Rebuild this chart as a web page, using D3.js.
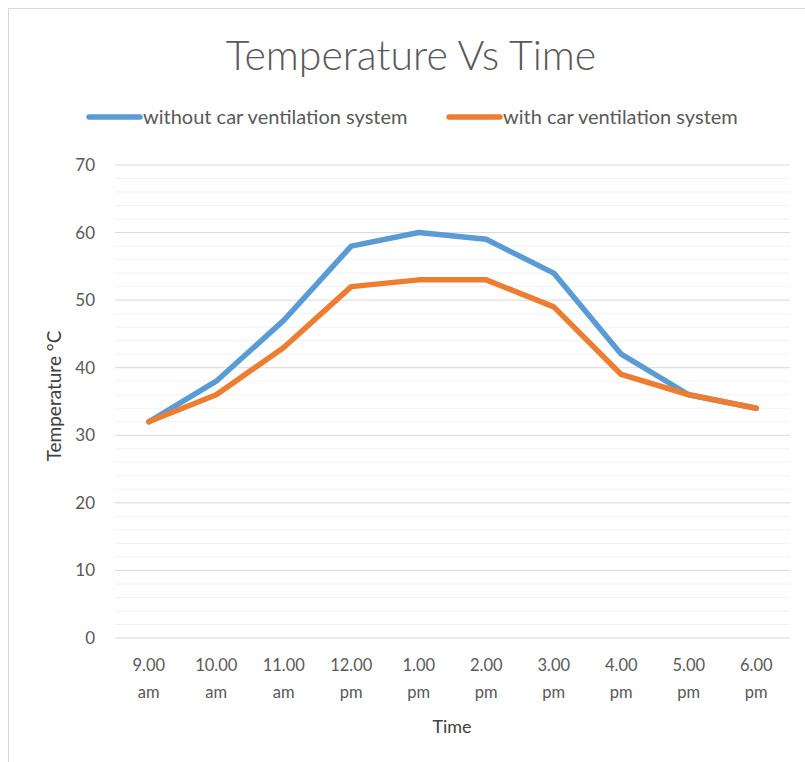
<!DOCTYPE html>
<html><head><meta charset="utf-8">
<script src="https://cdn.jsdelivr.net/npm/d3@7"></script>
<style>body{margin:0;background:#fff;}svg{display:block;}text{font-family:Lato,"Open Sans",sans-serif;}</style>
</head><body><svg id="c" width="805" height="762"></svg>
<script>
const categories = ["9.00 am","10.00 am","11.00 am","12.00 pm","1.00 pm","2.00 pm","3.00 pm","4.00 pm","5.00 pm","6.00 pm"];
const withoutVent = [32,38,47,58,60,59,54,42,36,34];
const withVent = [32,36,43,52,53,53,49,39,36,34];
const seriesNames = ["without car ventilation system","with car ventilation system"];
const yTicks = [0,10,20,30,40,50,60,70];

(function(){
const svg = d3.select("#c");
const colors = ["#5B9BD5","#ED7D31"];
const grey = "#595959";

svg.append("rect").attr("x",8.5).attr("y",8.5).attr("width",805).attr("height",760)
  .attr("fill","#fff").attr("stroke","#d9d9d9");

const pL = 115, pR = 790, pT = 165, pB = 638;
const x = d3.scaleBand().domain(categories).range([pL,pR]);
const y = d3.scaleLinear().domain([0,70]).range([pB,pT]);

const g = svg.append("g");
g.selectAll(".minor").data(d3.range(0,71,2).filter(v=>v%10!==0)).join("line")
  .attr("x1",pL).attr("x2",pR).attr("y1",d=>y(d)).attr("y2",d=>y(d))
  .attr("stroke","#f2f2f2").attr("stroke-width",1);
g.selectAll(".major").data(yTicks).join("line")
  .attr("x1",pL).attr("x2",pR).attr("y1",d=>y(d)).attr("y2",d=>y(d))
  .attr("stroke","#d9d9d9").attr("stroke-width",1);

const yAxis = d3.axisLeft(y).tickValues(yTicks).tickSize(0).tickPadding(20);
svg.append("g").attr("transform",`translate(${pL},0)`).call(yAxis)
  .call(a=>a.select(".domain").remove())
  .call(a=>a.selectAll("text").attr("fill",grey).attr("font-size",17).style("font-family","Lato,'Open Sans',sans-serif"));

const xg = svg.append("g");
categories.forEach(c=>{
  const parts = c.split(" ");
  const cx = x(c)+x.bandwidth()/2;
  const t = xg.append("text").attr("x",cx).attr("y",671)
    .attr("text-anchor","middle").attr("fill",grey).attr("font-size",16.5);
  t.append("tspan").attr("x",cx).attr("dy",0).text(parts[0]);
  t.append("tspan").attr("x",cx).attr("dy",27).text(parts[1]);
});

const line = d3.line().x((d,i)=>x(categories[i])+x.bandwidth()/2).y(d=>y(d));
[withoutVent, withVent].forEach((s,i)=>{
  svg.append("path").datum(s).attr("d",line).attr("fill","none")
    .attr("stroke",colors[i]).attr("stroke-width",5.5)
    .attr("stroke-linejoin","round").attr("stroke-linecap","round");
});

svg.append("text").attr("x",411).attr("y",70).attr("text-anchor","middle")
  .attr("fill",grey).attr("font-size",41).attr("font-weight",300).text("Temperature Vs Time");

const legX = [89, 449];
seriesNames.forEach((n,i)=>{
  svg.append("line").attr("x1",legX[i]).attr("x2",legX[i]+51).attr("y1",117).attr("y2",117)
    .attr("stroke",colors[i]).attr("stroke-width",5.5).attr("stroke-linecap","round");
  svg.append("text").attr("x",legX[i]+54).attr("y",124).attr("fill",grey).attr("font-size",20).text(n);
});

svg.append("text").attr("x",452).attr("y",733).attr("text-anchor","middle").attr("fill","#404040")
  .attr("font-size",18).text("Time");
svg.append("text").attr("transform","translate(61,396) rotate(-90)").attr("text-anchor","middle")
  .attr("fill","#404040").attr("font-size",19).text("Temperature °C");
})();
</script></body></html>
